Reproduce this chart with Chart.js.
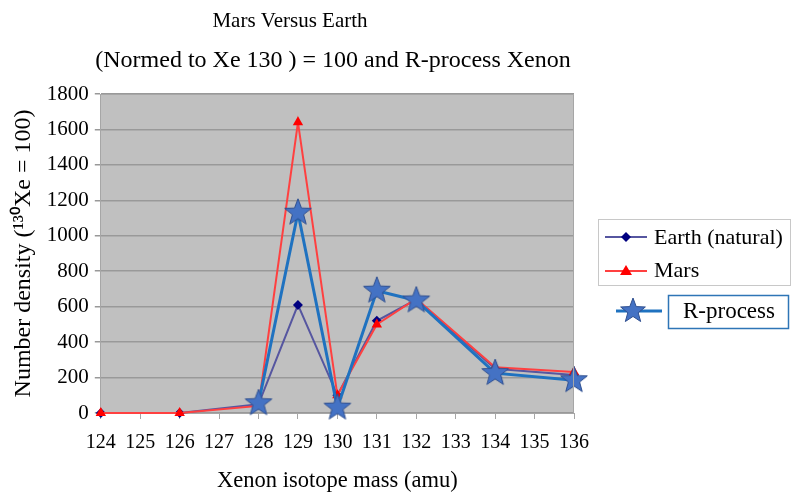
<!DOCTYPE html>
<html>
<head>
<meta charset="utf-8">
<script src="https://cdn.jsdelivr.net/npm/chart.js@4.4.0/dist/chart.umd.min.js"></script>
<style>
  body { margin: 0; background: #fff; }
  #wrap { width: 795px; height: 495px; position: relative; }
</style>
</head>
<body>
<div id="wrap"><canvas id="chart"></canvas></div>
<script>
const masses = ["124", "125", "126", "127", "128", "129", "130", "131", "132", "133", "134", "135", "136"]
const earth = [0, null, 0, null, 50, 610, 100, 520, 640, null, 250, null, 215]
const mars = [0, null, 0, null, 40, 1640, 100, 500, 645, null, 258, null, 232]
const rprocess = [null, null, null, null, 55, 1130, 30, 690, 635, null, 225, null, 185]
const yTicks = [0, 200, 400, 600, 800, 1000, 1200, 1400, 1600, 1800]

const serif = "'Liberation Serif', 'Times New Roman', serif"

// five point star marker for the R-process series
function makeStar(size) {
  let c = document.createElement('canvas')
  c.width = size
  c.height = size
  let g = c.getContext('2d')
  let cx = size / 2, cy = size / 2
  let outer = size / 2 - 1, inner = outer * 0.42
  g.beginPath()
  for (let i = 0; i < 10; i++) {
    let r = i % 2 == 0 ? outer : inner
    let a = -Math.PI / 2 + i * Math.PI / 5
    let px = cx + r * Math.cos(a)
    let py = cy + r * Math.sin(a)
    if (i == 0) g.moveTo(px, py)
    else g.lineTo(px, py)
  }
  g.closePath()
  g.fillStyle = '#4472c4'
  g.fill()
  g.strokeStyle = '#2f4f8f'
  g.lineWidth = 1
  g.stroke()
  return c
}
const star = makeStar(30)
const smallStar = makeStar(28)

const plotBg = {
  id: 'plotBg',
  beforeDraw(chart) {
    let a = chart.chartArea
    let ctx = chart.ctx
    ctx.save()
    ctx.fillStyle = '#c0c0c0'
    ctx.fillRect(a.left, a.top, a.right - a.left, a.bottom - a.top)
    ctx.restore()
  },
  afterDraw(chart) {
    let ctx = chart.ctx
    let a = chart.chartArea
    ctx.save()
    // plot border top/right
    ctx.strokeStyle = '#a6a6a6'
    ctx.lineWidth = 1
    ctx.beginPath()
    ctx.moveTo(a.left, a.top + 0.5)
    ctx.lineTo(a.right - 0.5, a.top + 0.5)
    ctx.lineTo(a.right - 0.5, a.bottom)
    ctx.stroke()

    // titles
    ctx.fillStyle = '#000'
    ctx.textAlign = 'center'
    ctx.textBaseline = 'middle'
    ctx.font = '21px ' + serif
    ctx.fillText('Mars Versus Earth', 290, 21)
    ctx.font = '24px ' + serif
    ctx.fillText('(Normed to Xe 130 ) = 100 and R-process Xenon', 333, 61)

    // legend box
    ctx.fillStyle = '#fff'
    ctx.fillRect(598, 219, 193, 67)
    ctx.strokeStyle = '#c8c8c8'
    ctx.strokeRect(598.5, 219.5, 192, 66)

    ctx.lineWidth = 2
    ctx.strokeStyle = '#5656a0'
    ctx.beginPath(); ctx.moveTo(605, 237); ctx.lineTo(647, 237); ctx.stroke()
    ctx.fillStyle = '#000080'
    ctx.beginPath()
    ctx.moveTo(626, 232); ctx.lineTo(631, 237); ctx.lineTo(626, 242); ctx.lineTo(621, 237)
    ctx.closePath(); ctx.fill()

    ctx.strokeStyle = '#ff4040'
    ctx.beginPath(); ctx.moveTo(605, 271); ctx.lineTo(647, 271); ctx.stroke()
    ctx.fillStyle = '#ff0000'
    ctx.beginPath()
    ctx.moveTo(626, 265); ctx.lineTo(632, 275); ctx.lineTo(620, 275)
    ctx.closePath(); ctx.fill()

    ctx.fillStyle = '#000'
    ctx.textAlign = 'left'
    ctx.font = '22px ' + serif
    ctx.fillText('Earth (natural)', 654, 238)
    ctx.fillText('Mars', 654, 271)

    ctx.strokeStyle = '#1f72c0'
    ctx.lineWidth = 3
    ctx.beginPath(); ctx.moveTo(616, 311); ctx.lineTo(662, 311); ctx.stroke()
    ctx.drawImage(smallStar, 633 - 14, 311 - 14)

    ctx.fillStyle = '#fff'
    ctx.fillRect(668, 295, 121, 34)
    ctx.strokeStyle = '#2e75b6'
    ctx.lineWidth = 1.5
    ctx.strokeRect(668.5, 295.5, 120, 33)
    ctx.fillStyle = '#000'
    ctx.font = '23px ' + serif
    ctx.fillText('R-process', 683, 312)
    ctx.restore()
  }
}

new Chart(document.getElementById('chart'), {
  type: 'line',
  data: {
    labels: masses,
    datasets: [
      {
        label: 'Earth (natural)',
        data: earth,
        borderColor: '#5656a0',
        backgroundColor: '#000080',
        borderWidth: 2,
        pointStyle: 'rectRot',
        pointRadius: 5,
        pointBorderWidth: 0,
        spanGaps: true,
        clip: false,
        order: 3
      },
      {
        label: 'Mars',
        data: mars,
        borderColor: '#ff4040',
        backgroundColor: '#ff0000',
        borderWidth: 2,
        pointStyle: 'triangle',
        pointRadius: 6,
        pointBorderWidth: 0,
        spanGaps: true,
        clip: false,
        order: 2
      },
      {
        label: 'R-process',
        data: rprocess,
        borderColor: '#1f72c0',
        backgroundColor: '#4472c4',
        borderWidth: 3,
        pointStyle: star,
        pointRadius: 15,
        spanGaps: true,
        clip: false,
        order: 1
      }
    ]
  },
  options: {
    responsive: true,
    maintainAspectRatio: false,
    animation: false,
    layout: { padding: { top: 94, right: 221, bottom: 0, left: 9 } },
    plugins: {
      legend: { display: false },
      title: { display: false },
      tooltip: { enabled: false }
    },
    scales: {
      x: {
        offset: false,
        grid: { display: true, drawOnChartArea: false, drawTicks: true, tickLength: 6, color: '#a6a6a6' },
        border: { color: '#a6a6a6' },
        ticks: { color: '#000', font: { family: serif, size: 20 }, padding: 12, maxRotation: 0, autoSkip: false },
        title: { display: true, text: 'Xenon isotope mass (amu)', color: '#000', font: { family: serif, size: 22.5 }, padding: { top: 1, bottom: 0 } }
      },
      y: {
        min: 0,
        max: 1800,
        afterBuildTicks(axis) { axis.ticks = yTicks.map(v => ({ value: v })) },
        grid: { color: '#999999', lineWidth: 1.5, tickLength: 6, drawTicks: true },
        border: { color: '#a6a6a6' },
        ticks: { color: '#000', font: { family: serif, size: 21 }, padding: 6, callback: v => String(v) },
        title: { display: true, text: 'Number density (¹³⁰Xe = 100)', color: '#000', font: { family: serif, size: 24 }, padding: { top: 0, bottom: 3 } }
      }
    }
  },
  plugins: [plotBg]
})
</script>
</body>
</html>
